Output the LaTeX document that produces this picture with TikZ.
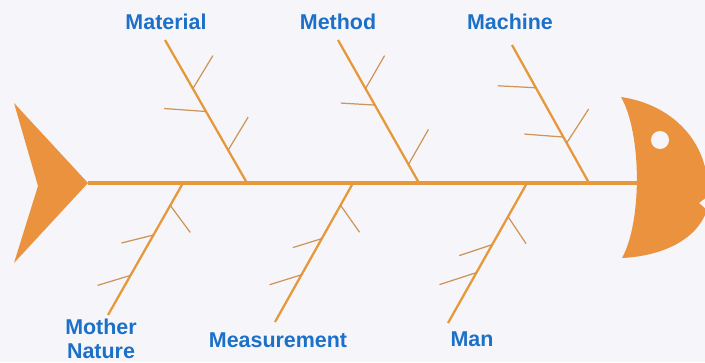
\documentclass[tikz,border=0pt]{standalone}
\usepackage{fontspec}
\setmainfont{Liberation Sans}
\usetikzlibrary{positioning,calc}
\definecolor{fishorange}{RGB}{234,146,62}
\definecolor{boneorange}{RGB}{230,152,58}
\definecolor{ribbrown}{RGB}{206,148,88}
\definecolor{labelblue}{RGB}{28,112,200}
\definecolor{paper}{RGB}{246,246,250}
\begin{document}
\begin{tikzpicture}[x=0.02cm,y=-0.02cm,
  cause/.style={font=\fontsize{12.2}{13.7}\selectfont\bfseries,text=labelblue,align=center,inner sep=0pt},
  spine/.style={boneorange,line width=2.2pt},
  bone/.style={boneorange,line width=1.3pt},
  rib/.style={ribbrown,line width=0.7pt}]
\fill[paper] (0,0) rectangle (705,362);
\useasboundingbox (0,0) rectangle (705,362);
% Tail and head
\fill[fishorange] (14,103) -- (88,183) -- (14,263) -- (38,186) -- cycle;
\begin{scope}
\clip (0,0) rectangle (705,362);
\fill[fishorange] (621,97) .. controls (670,104) and (710,140) .. (708,196)
  -- (699,203) -- (707,210) .. controls (697,240) and (662,256) .. (622,258)
  .. controls (642,222) and (642,134) .. (621,97) -- cycle;
\end{scope}
\fill[paper] (660,140) circle (0.18cm);
\coordinate (tail) at (88,183);
\coordinate (head) at (637,183);
\draw[spine] (tail) -- (head);
% Causes
\node[cause] (material) at (166,22) {Material};
\node[cause] (method) at (338,22) {Method};
\node[cause] (machine) at (510,22) {Machine};
\node[cause] (nature) at (101,339) {Mother\\Nature};
\node[cause] (measure) at (278,340) {Measurement};
\node[cause] (man) at (472,339) {Man};
% Bones
\coordinate (mat-a) at (165,40);  \coordinate (mat-b) at (247,183);
\coordinate (met-a) at (338,40);  \coordinate (met-b) at (419,183);
\coordinate (mac-a) at (512,45);  \coordinate (mac-b) at (589,183);
\coordinate (nat-a) at (108,315); \coordinate (nat-b) at (183,183);
\coordinate (mea-a) at (275,322); \coordinate (mea-b) at (353,183);
\coordinate (man-a) at (448,323); \coordinate (man-b) at (527,183);
\foreach \b in {mat,met,mac,nat,mea,man}
  \draw[bone] (\b-a) -- (\b-b);
% Ribs
\foreach \b/\t/\dx/\dy in {mat/0.34/20/-33, mat/0.5/-42/-3, mat/0.77/20/-33,
  met/0.34/19/-33, met/0.455/-34/-2, met/0.87/20/-35,
  mac/0.31/-38/-2, mac/0.667/-39/-3, mac/0.71/22/-34,
  nat/0.83/20/27, nat/0.606/-32/8, nat/0.30/-33/10,
  mea/0.84/19/27, mea/0.60/-29/9, mea/0.34/-32/10,
  man/0.76/18/27, man/0.56/-33/11, man/0.36/-37/12}
  \draw[rib] ($(\b-a)!\t!(\b-b)$) -- ++(\dx,\dy);
\end{tikzpicture}
\end{document}
